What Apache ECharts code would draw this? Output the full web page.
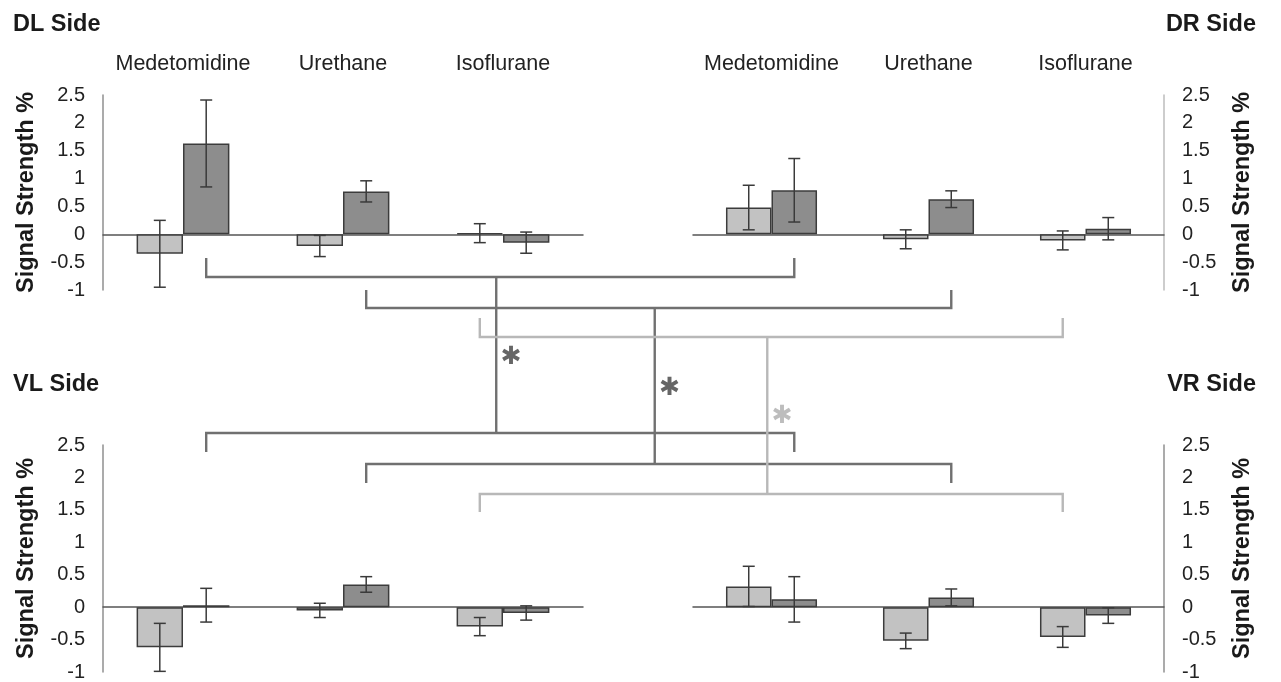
<!DOCTYPE html>
<html>
<head>
<meta charset="utf-8">
<script src="https://cdn.jsdelivr.net/npm/echarts@6/dist/echarts.min.js"></script>
<style>
  html, body { margin: 0; padding: 0; background: #fff; }
  #chart { width: 1281px; height: 682px; }
</style>
</head>
<body>
<div id="chart"></div>
<script>
// anaesthetic groups (top labels)
const groups = ['Medetomidine', 'Urethane', 'Isoflurane'];
const sides = ['DL Side', 'DR Side', 'VL Side', 'VR Side'];

// mean signal strength % and error, light bar then dark bar
const dlLight = [-0.35, -0.21, 0.02];
const dlLightErr = [0.60, 0.19, 0.17];
const dlDark = [1.63, 0.77, -0.15];
const dlDarkErr = [0.78, 0.19, 0.19];

const drLight = [0.48, -0.09, -0.11];
const drLightErr = [0.40, 0.17, 0.17];
const drDark = [0.79, 0.63, 0.10];
const drDarkErr = [0.57, 0.15, 0.20];

const vlLight = [-0.62, -0.05, -0.30];
const vlLightErr = [0.37, 0.11, 0.14];
const vlDark = [0.03, 0.35, -0.09];
const vlDarkErr = [0.26, 0.12, 0.11];

const vrLight = [0.32, -0.52, -0.46];
const vrLightErr = [0.31, 0.12, 0.16];
const vrDark = [0.12, 0.15, -0.13];
const vrDarkErr = [0.35, 0.13, 0.12];

const FONT = 'Liberation Sans, Arial, sans-serif';
const LIGHT = '#c2c2c2';
const DARK = '#8d8d8d';
const EDGE = '#3c3c3c';
const catGap = 0.42;

// grid boxes: DL, DR, VL, VR
const grids = [
  { left: 103, top: 95, width: 480, height: 195 },
  { left: 693, top: 95, width: 471, height: 195 },
  { left: 103, top: 445, width: 480, height: 227 },
  { left: 693, top: 445, width: 471, height: 227 }
];

const panels = [
  [dlLight, dlLightErr, dlDark, dlDarkErr],
  [drLight, drLightErr, drDark, drDarkErr],
  [vlLight, vlLightErr, vlDark, vlDarkErr],
  [vrLight, vrLightErr, vrDark, vrDarkErr]
];

const chart = echarts.init(document.getElementById('chart'));

function errorSeries(idx, values, errs, side) {
  return {
    type: 'custom',
    xAxisIndex: idx,
    yAxisIndex: idx,
    z: 5,
    silent: true,
    data: values.map((v, i) => [i, v, errs[i]]),
    renderItem: (params, api) => {
      const c = api.value(0), v = api.value(1), e = api.value(2);
      const bw = api.size([1, 0])[0] * (1 - catGap) / 2;
      const hi = api.coord([c, v + e]);
      const lo = api.coord([c, v - e]);
      const x = hi[0] + side * bw / 2;
      const st = { stroke: '#3a3a3a', lineWidth: 1.5 };
      return {
        type: 'group',
        children: [
          { type: 'line', shape: { x1: x, y1: hi[1], x2: x, y2: lo[1] }, style: st },
          { type: 'line', shape: { x1: x - 6, y1: hi[1], x2: x + 6, y2: hi[1] }, style: st },
          { type: 'line', shape: { x1: x - 6, y1: lo[1], x2: x + 6, y2: lo[1] }, style: st }
        ]
      };
    }
  };
}

const xAxes = grids.map((g, i) => ({
  gridIndex: i,
  type: 'category',
  data: groups,
  axisLine: { onZero: true, lineStyle: { color: '#555', width: 1.5 } },
  axisTick: { show: false },
  axisLabel: { show: false }
}));
[0, 1].forEach(i => xAxes.push({
  gridIndex: i,
  type: 'category',
  data: groups,
  position: 'top',
  axisLine: { show: false },
  axisTick: { show: false },
  axisLabel: { interval: 0, margin: 20, fontSize: 21.5, color: '#222', fontFamily: FONT }
}));

const yAxes = grids.map((g, i) => {
  const right = i % 2 === 1;
  return {
    gridIndex: i,
    type: 'value',
    min: -1,
    max: 2.5,
    interval: 0.5,
    position: right ? 'right' : 'left',
    axisLine: { show: true, lineStyle: { color: i === 1 ? '#bdbdbd' : '#8f8f8f', width: 1.5 } },
    axisTick: { show: false },
    splitLine: { show: false },
    axisLabel: { margin: 18, fontSize: 20, color: '#222', fontFamily: FONT },
    name: 'Signal Strength %',
    nameLocation: 'middle',
    nameGap: right ? 67 : 64,
    nameTextStyle: { fontSize: 23.5, fontWeight: 'bold', color: '#1a1a1a', fontFamily: FONT }
  };
});

const series = [];
panels.forEach((p, i) => {
  series.push({
    type: 'bar', xAxisIndex: i, yAxisIndex: i, data: p[0],
    barGap: '0%', barCategoryGap: (catGap * 100) + '%',
    itemStyle: { color: LIGHT, borderColor: EDGE, borderWidth: 1.5 }
  });
  series.push({
    type: 'bar', xAxisIndex: i, yAxisIndex: i, data: p[2],
    barGap: '0%', barCategoryGap: (catGap * 100) + '%',
    itemStyle: { color: DARK, borderColor: EDGE, borderWidth: 1.5 }
  });
  series.push(errorSeries(i, p[0], p[1], -1));
  series.push(errorSeries(i, p[2], p[3], 1));
});

const titles = sides.map((s, i) => {
  const t = {
    text: s,
    top: i < 2 ? 8 : 368,
    textStyle: { fontSize: 23.5, fontWeight: 'bold', color: '#1a1a1a', fontFamily: FONT }
  };
  if (i % 2 === 0) t.left = 8; else t.right = 20;
  return t;
});

chart.setOption({
  animation: false,
  title: titles,
  grid: grids,
  xAxis: xAxes,
  yAxis: yAxes,
  series: series
});

// comparison brackets between top and bottom panels
const brackets = [
  { cat: 0, side: 1, color: '#707070', top: [258, 277], bot: [433, 452], star: 357 },
  { cat: 1, side: 1, color: '#707070', top: [290, 308], bot: [464, 483], star: 388 },
  { cat: 2, side: -1, color: '#b8b8b8', top: [318, 337], bot: [494, 512], star: 416 }
];

function barX(axis, cat, side) {
  const bw = grids[axis].width / 3 * (1 - catGap) / 2;
  return chart.convertToPixel({ xAxisIndex: axis }, cat) + side * bw / 2;
}

const graphics = [];
brackets.forEach(b => {
  const tl = barX(0, b.cat, b.side), tr = barX(1, b.cat, b.side);
  const bl = barX(2, b.cat, b.side), br = barX(3, b.cat, b.side);
  const mid = (tl + tr) / 2 - 4;
  const st = { stroke: b.color, lineWidth: 2.4, fill: null };
  graphics.push({ type: 'polyline', shape: { points: [[tl, b.top[0]], [tl, b.top[1]], [tr, b.top[1]], [tr, b.top[0]]] }, style: st });
  graphics.push({ type: 'polyline', shape: { points: [[bl, b.bot[1]], [bl, b.bot[0]], [br, b.bot[0]], [br, b.bot[1]]] }, style: st });
  graphics.push({ type: 'line', shape: { x1: mid, y1: b.top[1], x2: mid, y2: b.bot[0] }, style: st });
  graphics.push({
    type: 'text', x: mid + 15, y: b.star,
    style: { text: '\u2731', fontSize: 25, fontWeight: 'bold', fontFamily: 'DejaVu Sans', fill: b.color === '#707070' ? '#666' : '#bdbdbd', align: 'center', verticalAlign: 'middle' }
  });
});

chart.setOption({ graphic: graphics });
</script>
</body>
</html>
